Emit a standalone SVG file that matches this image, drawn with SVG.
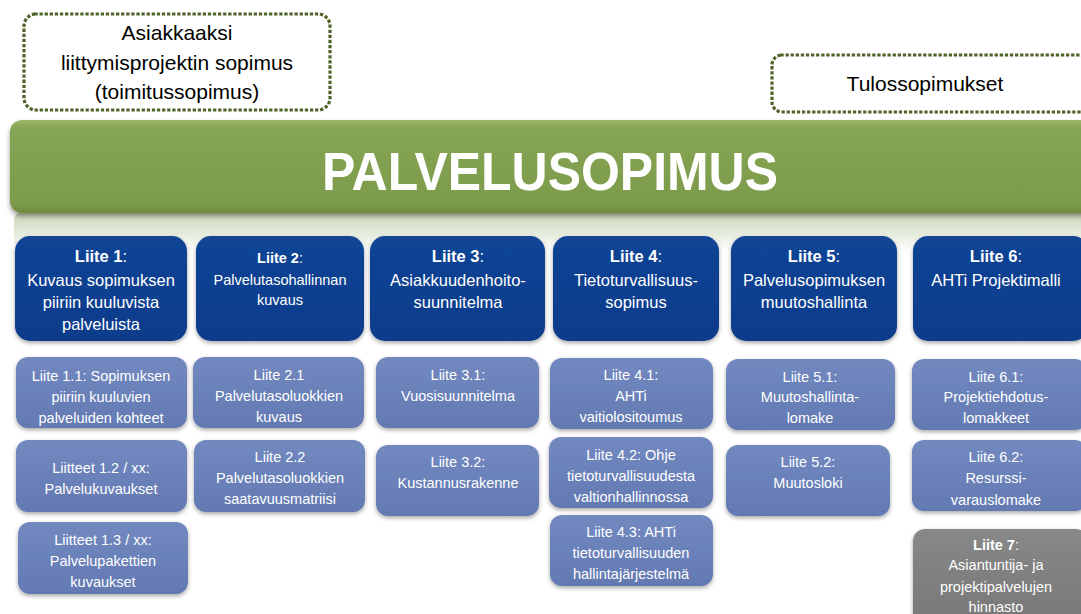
<svg xmlns="http://www.w3.org/2000/svg" width="1081" height="614" viewBox="0 0 1081 614">
  <defs>
    <linearGradient id="gBar" x1="0" y1="0" x2="0" y2="1">
      <stop offset="0" stop-color="#9BB86A"/>
      <stop offset="0.08" stop-color="#86A554"/>
      <stop offset="0.9" stop-color="#7C9B4B"/>
      <stop offset="1" stop-color="#6E8B40"/>
    </linearGradient>
    <linearGradient id="gHaze" x1="0" y1="0" x2="0" y2="1">
      <stop offset="0" stop-color="#C9D4B6"/>
      <stop offset="0.5" stop-color="#E4EADA"/>
      <stop offset="1" stop-color="#FFFFFF"/>
    </linearGradient>
    <linearGradient id="gBlue" x1="0" y1="0" x2="0" y2="1">
      <stop offset="0" stop-color="#124596"/>
      <stop offset="1" stop-color="#0A3B8A"/>
    </linearGradient>
    <linearGradient id="gSub" x1="0" y1="0" x2="0" y2="1">
      <stop offset="0" stop-color="#7289C0"/>
      <stop offset="1" stop-color="#6379B2"/>
    </linearGradient>
    <linearGradient id="gGray" x1="0" y1="0" x2="0" y2="1">
      <stop offset="0" stop-color="#888888"/>
      <stop offset="1" stop-color="#777777"/>
    </linearGradient>
    <filter id="shadow" x="-10%" y="-10%" width="120%" height="130%">
      <feDropShadow dx="0" dy="2" stdDeviation="2" flood-color="#000" flood-opacity="0.35"/>
    </filter>
    <filter id="glow" x="-10%" y="-20%" width="120%" height="150%">
      <feDropShadow dx="0" dy="3" stdDeviation="2.5" flood-color="#000" flood-opacity="0.4"/>
    </filter>
  </defs>
  <style>
    .note { fill: #FFFFFF; stroke: #4F6228; stroke-width: 3.2; stroke-dasharray: 0.1 5; stroke-linecap: square; }
    .noteText { font-family: "Liberation Sans", Arial, sans-serif; font-size: 21px; fill: #000; text-anchor: middle; }
    .main { fill: url(#gBar); filter: url(#glow); }
    .mainText { font-family: "Liberation Sans", Arial, sans-serif; font-size: 54px; font-weight: bold; fill: #FFFFFF; text-anchor: middle; }
    .top { fill: url(#gBlue); filter: url(#shadow); }
    .sub { fill: url(#gSub); filter: url(#shadow); }
    .gray { fill: url(#gGray); filter: url(#shadow); }
    .t16 { font-family: "Liberation Sans", Arial, sans-serif; font-size: 16.5px; fill: #FFFFFF; text-anchor: middle; }
    .t14 { font-family: "Liberation Sans", Arial, sans-serif; font-size: 14.5px; fill: #FFFFFF; text-anchor: middle; }
    .b { font-weight: bold; }
  </style>

  <rect width="1081" height="614" fill="#FFFFFF"/>

  <!-- haze below the main bar -->
  <rect x="14" y="212" width="1080" height="40" rx="8" fill="url(#gHaze)"/>

  <!-- dotted side notes -->
  <g id="note-asiakkaaksi">
    <rect class="note" x="24" y="14" width="306" height="96" rx="12"/>
    <text class="noteText" x="177" y="40">Asiakkaaksi</text>
    <text class="noteText" x="177" y="70">liittymisprojektin sopimus</text>
    <text class="noteText" x="177" y="99">(toimitussopimus)</text>
  </g>
  <g id="note-tulos">
    <rect class="note" x="772" y="55" width="318" height="57" rx="10"/>
    <text class="noteText" x="925" y="91">Tulossopimukset</text>
  </g>

  <!-- main agreement bar -->
  <g id="palvelusopimus">
    <rect class="main" x="10" y="120" width="1090" height="93" rx="12"/>
    <text class="mainText" x="550" y="190" textLength="456" lengthAdjust="spacingAndGlyphs">PALVELUSOPIMUS</text>
  </g>

  <!-- appendix headers -->
  <g id="liite1">
    <rect class="top" x="15" y="236" width="172" height="105" rx="15"/>
    <text class="t16" x="101" y="262"><tspan class="b">Liite 1</tspan>:</text>
    <text class="t16" x="101" y="286">Kuvaus sopimuksen</text>
    <text class="t16" x="101" y="308">piiriin kuuluvista</text>
    <text class="t16" x="101" y="330">palveluista</text>
  </g>
  <g id="liite2">
    <rect class="top" x="196" y="236" width="168" height="105" rx="15"/>
    <text class="t14" x="280" y="263"><tspan class="b">Liite 2</tspan>:</text>
    <text class="t14" x="280" y="285">Palvelutasohallinnan</text>
    <text class="t14" x="280" y="305">kuvaus</text>
  </g>
  <g id="liite3">
    <rect class="top" x="370" y="236" width="175" height="105" rx="15"/>
    <text class="t16" x="458" y="262"><tspan class="b">Liite 3</tspan>:</text>
    <text class="t16" x="458" y="286">Asiakkuudenhoito-</text>
    <text class="t16" x="458" y="308">suunnitelma</text>
  </g>
  <g id="liite4">
    <rect class="top" x="553" y="236" width="166" height="105" rx="15"/>
    <text class="t16" x="636" y="262"><tspan class="b">Liite 4</tspan>:</text>
    <text class="t16" x="636" y="286">Tietoturvallisuus-</text>
    <text class="t16" x="636" y="308">sopimus</text>
  </g>
  <g id="liite5">
    <rect class="top" x="731" y="236" width="166" height="105" rx="15"/>
    <text class="t16" x="814" y="262"><tspan class="b">Liite 5</tspan>:</text>
    <text class="t16" x="814" y="286">Palvelusopimuksen</text>
    <text class="t16" x="814" y="308">muutoshallinta</text>
  </g>
  <g id="liite6">
    <rect class="top" x="913" y="236" width="175" height="105" rx="15"/>
    <text class="t16" x="996" y="262"><tspan class="b">Liite 6</tspan>:</text>
    <text class="t16" x="996" y="286">AHTi Projektimalli</text>
  </g>

  <!-- column 1 -->
  <g id="liite1-1">
    <rect class="sub" x="16" y="357" width="171" height="71" rx="12"/>
    <text class="t14" x="101" y="381">Liite 1.1: Sopimuksen</text>
    <text class="t14" x="101" y="402">piiriin kuuluvien</text>
    <text class="t14" x="101" y="423">palveluiden kohteet</text>
  </g>
  <g id="liite1-2">
    <rect class="sub" x="16" y="440" width="171" height="72" rx="12"/>
    <text class="t14" x="101" y="473">Liitteet 1.2 / xx:</text>
    <text class="t14" x="101" y="494">Palvelukuvaukset</text>
  </g>
  <g id="liite1-3">
    <rect class="sub" x="18" y="522" width="170" height="72" rx="12"/>
    <text class="t14" x="103" y="545">Liitteet 1.3 / xx:</text>
    <text class="t14" x="103" y="566">Palvelupakettien</text>
    <text class="t14" x="103" y="587">kuvaukset</text>
  </g>

  <!-- column 2 -->
  <g id="liite2-1">
    <rect class="sub" x="193" y="357" width="171" height="71" rx="12"/>
    <text class="t14" x="279" y="380">Liite 2.1</text>
    <text class="t14" x="279" y="401">Palvelutasoluokkien</text>
    <text class="t14" x="279" y="422">kuvaus</text>
  </g>
  <g id="liite2-2">
    <rect class="sub" x="194" y="440" width="171" height="72" rx="12"/>
    <text class="t14" x="280" y="462">Liite 2.2</text>
    <text class="t14" x="280" y="483">Palvelutasoluokkien</text>
    <text class="t14" x="280" y="504">saatavuusmatriisi</text>
  </g>

  <!-- column 3 -->
  <g id="liite3-1">
    <rect class="sub" x="376" y="357" width="163" height="71" rx="12"/>
    <text class="t14" x="458" y="380">Liite 3.1:</text>
    <text class="t14" x="458" y="401">Vuosisuunnitelma</text>
  </g>
  <g id="liite3-2">
    <rect class="sub" x="376" y="445" width="163" height="71" rx="12"/>
    <text class="t14" x="458" y="467">Liite 3.2:</text>
    <text class="t14" x="458" y="488">Kustannusrakenne</text>
  </g>

  <!-- column 4 -->
  <g id="liite4-1">
    <rect class="sub" x="550" y="358" width="163" height="71" rx="12"/>
    <text class="t14" x="631" y="380">Liite 4.1:</text>
    <text class="t14" x="631" y="401">AHTi</text>
    <text class="t14" x="631" y="422">vaitiolositoumus</text>
  </g>
  <g id="liite4-2">
    <rect class="sub" x="549" y="437" width="164" height="71" rx="12"/>
    <text class="t14" x="631" y="460">Liite 4.2: Ohje</text>
    <text class="t14" x="631" y="481">tietoturvallisuudesta</text>
    <text class="t14" x="631" y="502">valtionhallinnossa</text>
  </g>
  <g id="liite4-3">
    <rect class="sub" x="550" y="515" width="163" height="71" rx="12"/>
    <text class="t14" x="631" y="537">Liite 4.3: AHTi</text>
    <text class="t14" x="631" y="558">tietoturvallisuuden</text>
    <text class="t14" x="631" y="579">hallintajärjestelmä</text>
  </g>

  <!-- column 5 -->
  <g id="liite5-1">
    <rect class="sub" x="726" y="359" width="169" height="71" rx="12"/>
    <text class="t14" x="810" y="382">Liite 5.1:</text>
    <text class="t14" x="810" y="402">Muutoshallinta-</text>
    <text class="t14" x="810" y="423">lomake</text>
  </g>
  <g id="liite5-2">
    <rect class="sub" x="726" y="445" width="164" height="71" rx="12"/>
    <text class="t14" x="808" y="467">Liite 5.2:</text>
    <text class="t14" x="808" y="488">Muutosloki</text>
  </g>

  <!-- column 6 -->
  <g id="liite6-1">
    <rect class="sub" x="912" y="359" width="175" height="71" rx="12"/>
    <text class="t14" x="996" y="382">Liite 6.1:</text>
    <text class="t14" x="996" y="402">Projektiehdotus-</text>
    <text class="t14" x="996" y="423">lomakkeet</text>
  </g>
  <g id="liite6-2">
    <rect class="sub" x="912" y="440" width="175" height="71" rx="12"/>
    <text class="t14" x="996" y="462">Liite 6.2:</text>
    <text class="t14" x="996" y="483">Resurssi-</text>
    <text class="t14" x="996" y="505">varauslomake</text>
  </g>
  <g id="liite7">
    <rect class="gray" x="913" y="529" width="175" height="100" rx="12"/>
    <text class="t14" x="996" y="550"><tspan class="b">Liite 7</tspan>:</text>
    <text class="t14" x="996" y="570">Asiantuntija- ja</text>
    <text class="t14" x="996" y="592">projektipalvelujen</text>
    <text class="t14" x="996" y="612">hinnasto</text>
  </g>
</svg>
